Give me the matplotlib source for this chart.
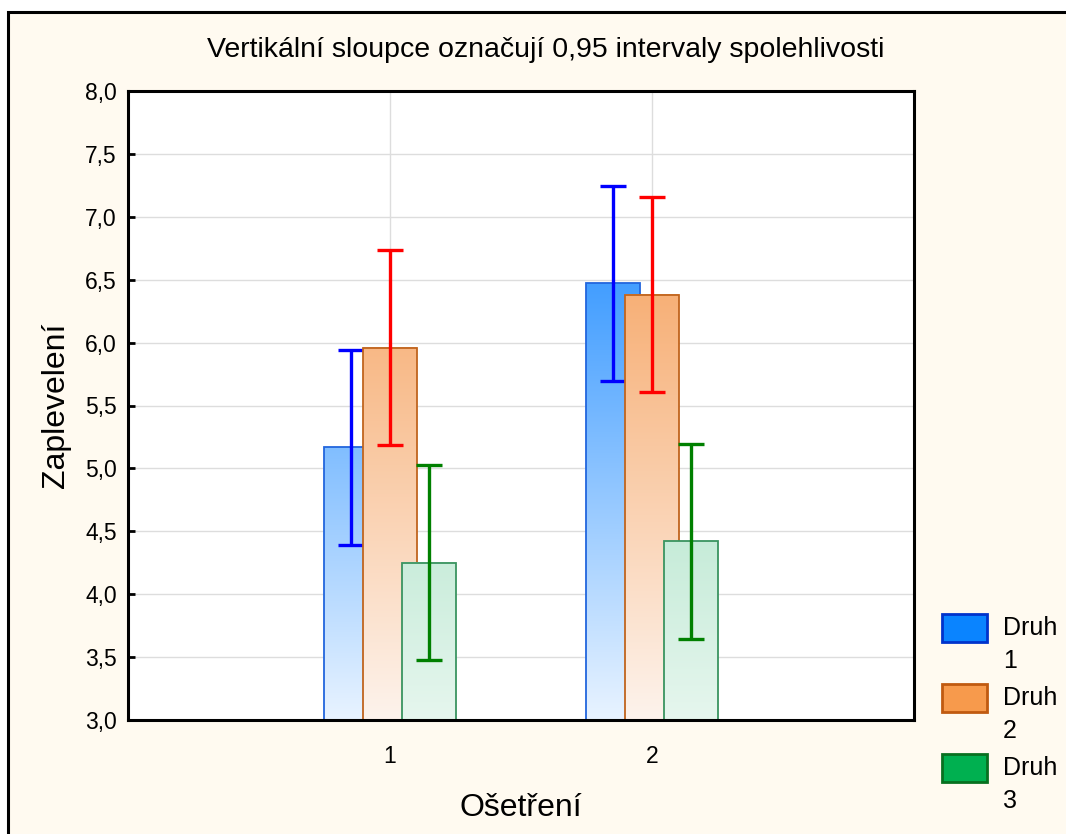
import numpy as np
import matplotlib
matplotlib.use('Agg')
import matplotlib.pyplot as plt
from matplotlib.patches import Rectangle
from matplotlib.colors import to_rgb

# data
treatments = [1, 2]
species = ['Druh 1', 'Druh 2', 'Druh 3']
means_d1 = [5.17, 6.47]
means_d2 = [5.96, 6.38]
means_d3 = [4.25, 4.42]
ci_d1 = [0.775, 0.775]
ci_d2 = [0.775, 0.775]
ci_d3 = [0.775, 0.775]

means = [means_d1, means_d2, means_d3]
cis = [ci_d1, ci_d2, ci_d3]

# style
top_cols = ['#3d9bff', '#f7ac70', '#96dcb8']
low_cols = ['#e8f3ff', '#fdf3ec', '#e6f6ee']
edge_cols = ['#2266dd', '#c0641e', '#3a9460']
err_cols = ['#0000ff', '#ff0000', '#008000']
leg_face = ['#0a84ff', '#f79a4c', '#00b050']
leg_edge = ['#0033cc', '#c05a10', '#087020']
offsets = [-0.15, 0.0, 0.15]
width = 0.205
ymin, ymax = 3.0, 8.0
W, H = 1066, 834

plt.rcParams['font.family'] = ['Liberation Sans', 'DejaVu Sans']

fig = plt.figure(figsize=(W / 100, H / 100), dpi=100)
fig.patch.set_facecolor('white')
# cream panel with black frame (cut at right/bottom)
fig.patches.append(Rectangle((8 / W, -0.05), 1.1, 1 - 12 / H + 0.05,
                             transform=fig.transFigure, facecolor='#fffaf0',
                             edgecolor='black', linewidth=2.2, zorder=-10))

ax = fig.add_axes([128 / W, 1 - 720 / H, (914 - 128) / W, (720 - 91) / H])
ax.set_facecolor('white')


def grad_bar(x, h, i, z):
    y = np.linspace(ymin, h, 120)
    t = np.clip((y - ymin) / (6.6 - ymin), 0, 1)[:, None]
    c0 = np.array(to_rgb(low_cols[i]))
    c1 = np.array(to_rgb(top_cols[i]))
    img = (c0 + (c1 - c0) * t)[:, None, :]
    ax.imshow(img, extent=[x - width / 2, x + width / 2, ymin, h], origin='lower',
              aspect='auto', zorder=z, interpolation='bilinear')
    ax.bar(x, h - ymin, bottom=ymin, width=width, facecolor='none',
           edgecolor=edge_cols[i], linewidth=1.3, zorder=z + 0.1)


for i in range(3):
    for j, t in enumerate(treatments):
        x = t + offsets[i]
        grad_bar(x, means[i][j], i, 2 + i)
        ax.errorbar(x, means[i][j], yerr=cis[i][j], fmt='none', ecolor=err_cols[i],
                    elinewidth=2.4, capsize=9.5, capthick=2.4, zorder=2.5 + i)

ax.set_xlim(0, 3)
ax.set_ylim(ymin, ymax)
ax.set_xticks(treatments)
ax.set_xticklabels([str(t) for t in treatments])
yt = np.arange(3.0, 8.01, 0.5)
ax.set_yticks(yt)
ax.set_yticklabels([f'{v:.1f}'.replace('.', ',') for v in yt])
ax.tick_params(direction='in', length=5, width=2, labelsize=16.5)
ax.tick_params(axis='y', pad=8)
ax.tick_params(axis='x', pad=18)
ax.grid(True, color='#dddddd', linewidth=1)
ax.set_axisbelow(True)
for s in ax.spines.values():
    s.set_linewidth(2.2)
    s.set_zorder(10)

ax.set_ylabel('Zaplevelení', fontsize=23, labelpad=10)
ax.set_xlabel('Ošetření', fontsize=23, labelpad=18)
fig.text(546 / W, 1 - 50 / H, 'Vertikální sloupce označují 0,95 intervaly spolehlivosti',
         ha='center', va='center', fontsize=20.5)

# legend drawn by hand: swatch with the two-line label hanging from it
for i, name in enumerate(species):
    yc = 628 + 70 * i
    fig.patches.append(Rectangle((942 / W, 1 - (yc + 14) / H), 45 / W, 28 / H,
                                 transform=fig.transFigure, facecolor=leg_face[i],
                                 edgecolor=leg_edge[i], linewidth=2, zorder=5))
    word, num = name.split(' ')
    fig.text(1003 / W, 1 - yc / H, word, ha='left', va='center', fontsize=18)
    fig.text(1003 / W, 1 - (yc + 33) / H, num, ha='left', va='center', fontsize=18)

fig.savefig('out.png', dpi=100)
